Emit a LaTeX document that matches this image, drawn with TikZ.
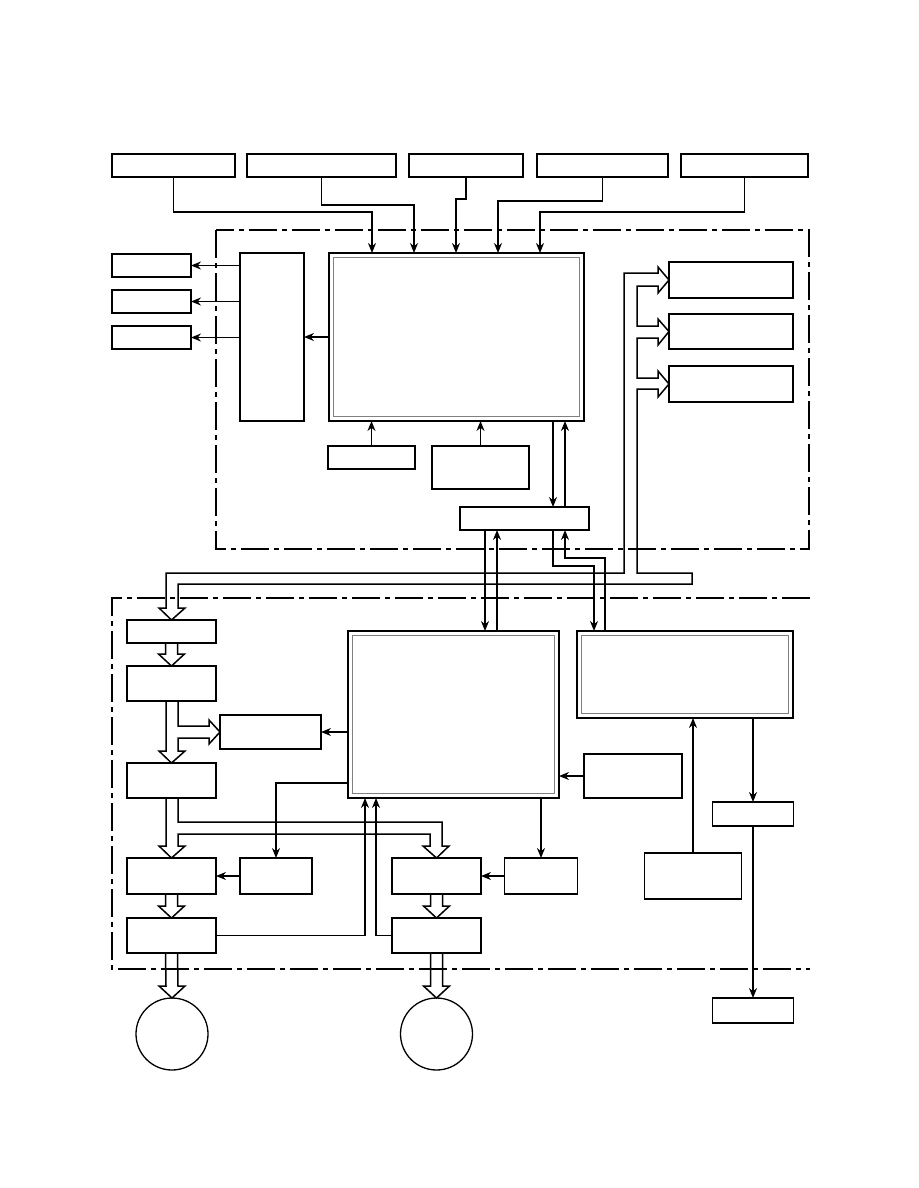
\documentclass[tikz,border=0pt]{standalone}
\usetikzlibrary{arrows.meta, positioning, calc}

\tikzset{
  blk/.style={draw, line width=1.4pt, inner sep=0pt, outer sep=0pt},
  dbl/.style={blk, path picture={\draw[black!50, line width=1pt]
      ([shift={(4.5pt,-4.5pt)}]path picture bounding box.north west) rectangle
      ([shift={(-4.5pt,4.5pt)}]path picture bounding box.south east);}},
  circ/.style={draw, circle, line width=1.3pt, minimum size=72pt, inner sep=0pt, outer sep=0pt},
  arr/.style={line width=1.3pt, -{Stealth[length=10pt,width=8pt]}},
  bus/.style={line width=1.5pt, line join=miter},
  frame/.style={line width=1.2pt, dash pattern=on 28pt off 5pt on 5pt off 5pt}
}

% vertical hollow arrow from one block down to the next
\newcommand{\vhollow}[2]{%
  \draw[bus] ([xshift=-6pt]#1.south) -- ([xshift=-6pt,yshift=12pt]#2.north)
    -- ([xshift=-13pt,yshift=12pt]#2.north) -- (#2.north)
    -- ([xshift=13pt,yshift=12pt]#2.north) -- ([xshift=6pt,yshift=12pt]#2.north)
    -- ([xshift=6pt]#1.south);}

\begin{document}
\begin{tikzpicture}[x=1pt, y=-1pt]
  \useasboundingbox (0,0) rectangle (918,1188);

  % inputs on top
  \node[blk, minimum width=123, minimum height=23] (t1) at (173.5,165.5) {};
  \node[blk, minimum width=149, minimum height=23, right=12pt of t1] (t2) {};
  \node[blk, minimum width=114, minimum height=23, right=13pt of t2] (t3) {};
  \node[blk, minimum width=131, minimum height=23, right=14pt of t3] (t4) {};
  \node[blk, minimum width=127, minimum height=23, right=13pt of t4] (t5) {};

  % upper unit
  \draw[frame] (216,230) rectangle (809,549);
  \node[blk, minimum width=79, minimum height=23] (out1) at (151.5,265.5) {};
  \node[blk, minimum width=79, minimum height=23, below=13pt of out1] (out2) {};
  \node[blk, minimum width=79, minimum height=23, below=13pt of out2] (out3) {};
  \node[blk, minimum width=64, minimum height=168] (drv) at (272,337) {};
  \node[dbl, minimum width=255, minimum height=168] (mcu) at (456.5,337) {};
  \node[blk, minimum width=87, minimum height=23] (key1) at (371.5,457.5) {};
  \node[blk, minimum width=97, minimum height=43] (key2) at (480.5,467.5) {};
  \node[blk, minimum width=129, minimum height=23] (ifc) at (524.5,518.5) {};
  \node[blk, minimum width=124, minimum height=36] (r1) at (731,280) {};
  \node[blk, minimum width=124, minimum height=35, below=16pt of r1] (r2) {};
  \node[blk, minimum width=124, minimum height=36, below=17pt of r2] (r3) {};

  \draw[arr] (t1.south) |- (372,212) -- (372,0 |- mcu.north);
  \draw[arr] (t2.south) |- (414,205) -- (414,0 |- mcu.north);
  \draw[arr] (t3.south) |- (456,199) -- (456,0 |- mcu.north);
  \draw[arr] (t4.south) |- (498,201) -- (498,0 |- mcu.north);
  \draw[arr] (t5.south) |- (540,212) -- (540,0 |- mcu.north);

  \draw[arr] (drv.west |- out1) -- (out1.east);
  \draw[arr] (drv.west |- out2) -- (out2.east);
  \draw[arr] (drv.west |- out3) -- (out3.east);
  \draw[arr] (mcu.west) -- (drv.east);
  \draw[arr] (key1.north) -- (key1.north |- mcu.south);
  \draw[arr] (key2.north) -- (key2.north |- mcu.south);
  \draw[arr] (553,0 |- mcu.south) -- (553,0 |- ifc.north);
  \draw[arr] (565,0 |- ifc.north) -- (565,0 |- mcu.south);

  % lower unit
  \draw[frame] (810,598) -- (112,598) -- (112,969) -- (810,969);
  \node[blk, minimum width=89, minimum height=23] (a1) at (171.5,631.5) {};
  \node[blk, minimum width=89, minimum height=35, below=23pt of a1] (a2) {};
  \node[blk, minimum width=101, minimum height=34] (a3) at (270.5,732) {};
  \node[blk, minimum width=89, minimum height=35] (a4) at (171.5,780.5) {};
  \node[blk, minimum width=89, minimum height=36] (a5) at (171.5,876) {};
  \node[blk, minimum width=89, minimum height=35, below=24pt of a5] (a7) {};
  \node[blk, minimum width=72, minimum height=36] (a6) at (276,876) {};
  \node[dbl, minimum width=211, minimum height=167] (cpu) at (453.5,714.5) {};
  \node[dbl, minimum width=216, minimum height=87] (disp) at (685,674.5) {};
  \node[blk, minimum width=98, minimum height=44] (sens) at (633,776) {};
  \node[blk, minimum width=97, minimum height=46] (sw) at (693,876) {};
  \node[blk, minimum width=81, minimum height=24] (h1) at (753,814) {};
  \node[blk, minimum width=81, minimum height=25] (h2) at (753,1010.5) {};
  \node[blk, minimum width=89, minimum height=36] (b5) at (436.5,876) {};
  \node[blk, minimum width=89, minimum height=35, below=24pt of b5] (b6) {};
  \node[blk, minimum width=73, minimum height=36] (b7) at (541,876) {};
  \node[circ] (m1) at (172,1034) {};
  \node[circ] (m2) at (436.5,1034) {};

  \draw[arr] (485,0 |- ifc.south) -- (485,0 |- cpu.north);
  \draw[arr] (497,0 |- cpu.north) -- (497,0 |- ifc.south);
  \draw[arr] (553,0 |- ifc.south) |- (594,566) -- (594,0 |- disp.north);
  \draw[arr] (605,0 |- disp.north) |- (565,558) -- (565,0 |- ifc.south);
  \draw[arr] (cpu.west |- a3) -- (a3.east);
  \draw[arr] (sens.west) -- (sens.west -| cpu.east);
  \draw[arr] (cpu.west |- 0,783) -| (a6.north);
  \draw[arr] (b7.north |- cpu.south) -- (b7.north);
  \draw[arr] (a6.west) -- (a5.east);
  \draw[arr] (b7.west) -- (b5.east);
  \draw[arr] (a7.east) -| (365,0 |- cpu.south);
  \draw[arr] (b6.west) -| (376,0 |- cpu.south);
  \draw[arr] (sw.north) -- (sw.north |- disp.south);
  \draw[arr] (h1.north |- disp.south) -- (h1.north);
  \draw[arr] (h1.south) -- (h2.north);

  % hollow buses
  \draw[bus] (r1.west) -- (658,267) -- (658,273) -- (624,273) -- (624,573)
    -- (166,573) -- (166,608) -- (159,608) -- (a1.north) -- (185,608) -- (178,608)
    -- (178,584) -- (692,584) -- (692,573) -- (637,573) -- (637,389) -- (658,389)
    -- (658,397) -- (r3.west) -- (658,371) -- (658,378) -- (637,378) -- (637,338)
    -- (658,338) -- (658,345) -- (r2.west) -- (658,319) -- (658,326) -- (637,326)
    -- (637,286) -- (658,286) -- (658,293) -- cycle;
  \vhollow{a1}{a2}
  \draw[bus] (166,701) -- (166,751) -- (159,751) -- (a4.north) -- (185,751) -- (178,751)
    -- (178,738) -- (209,738) -- (209,744) -- (a3.west) -- (209,720) -- (209,726)
    -- (178,726) -- (178,701);
  \draw[bus] (166,798) -- (166,846) -- (159,846) -- (a5.north) -- (185,846) -- (178,846)
    -- (178,834) -- (430,834) -- (430,846) -- (423,846) -- (b5.north) -- (449,846)
    -- (442,846) -- (442,822) -- (178,822) -- (178,798);
  \vhollow{a5}{a7}
  \vhollow{b5}{b6}
  \vhollow{a7}{m1}
  \vhollow{b6}{m2}
\end{tikzpicture}
\end{document}
